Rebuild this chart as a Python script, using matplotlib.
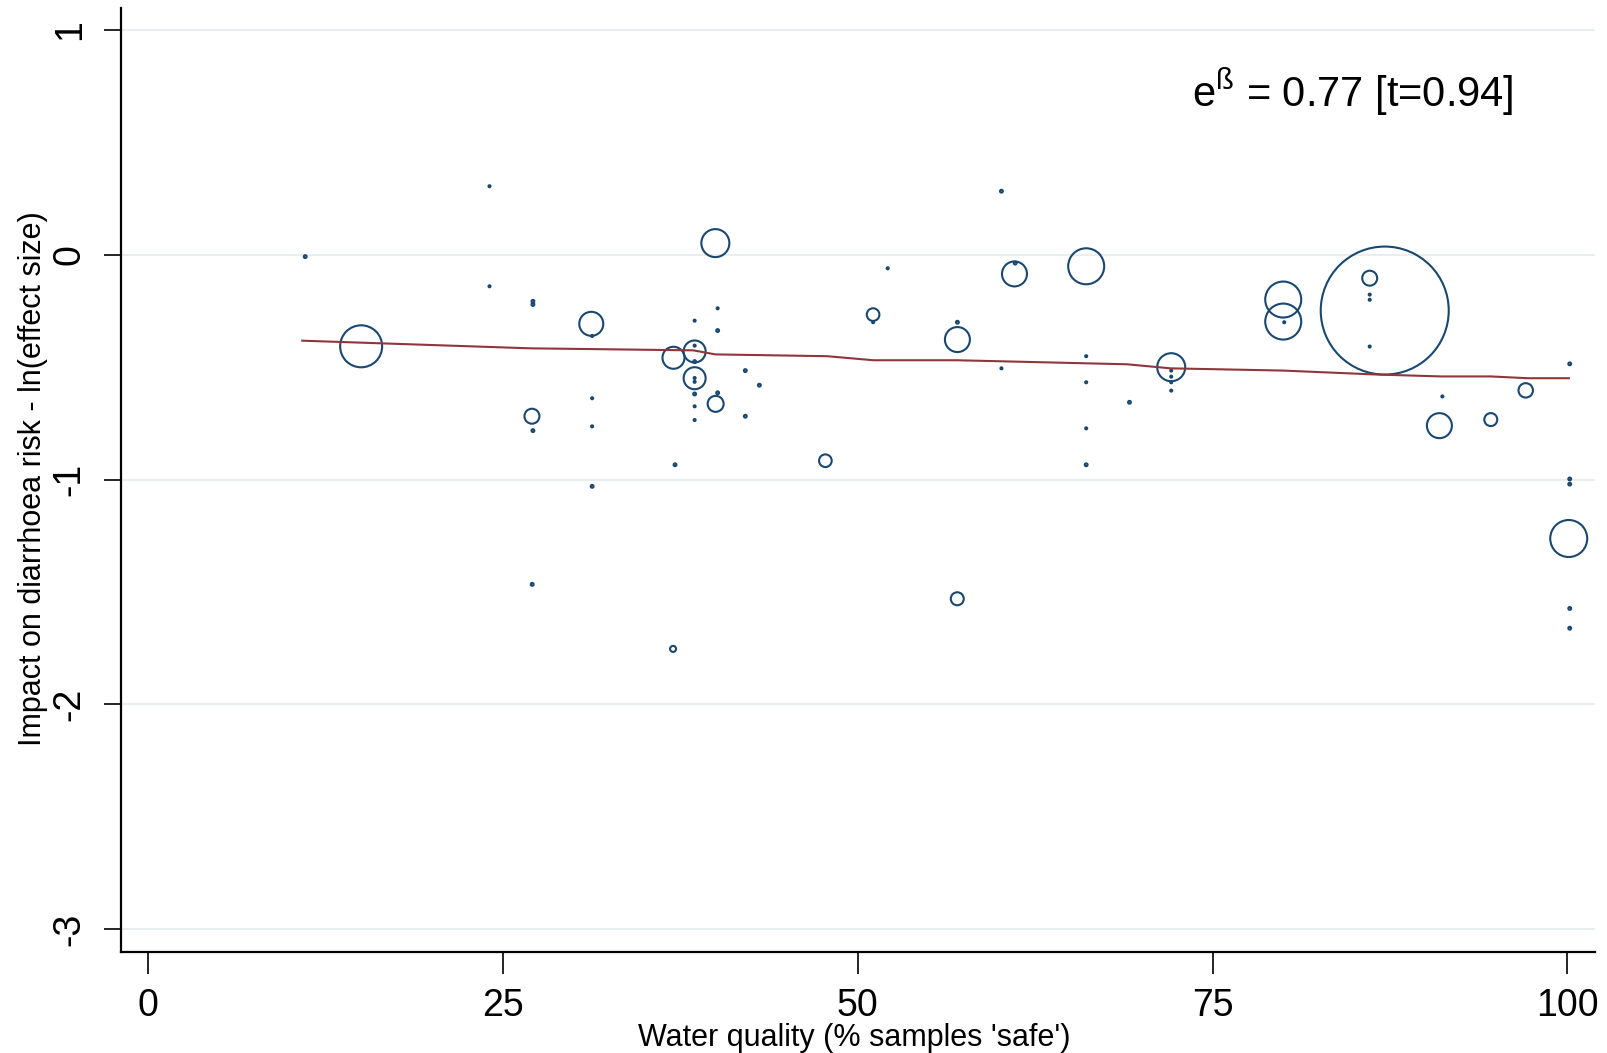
import matplotlib
matplotlib.use('agg')
import matplotlib.pyplot as plt
import numpy as np

plt.rcParams['font.family'] = ['Liberation Sans', 'DejaVu Sans']
plt.rcParams['mathtext.fontset'] = 'custom'
plt.rcParams['mathtext.rm'] = 'Liberation Sans'

NAVY = '#1a476f'
MAROON = '#90353b'
GRID = '#e8eff0'

# study estimates: water quality, ln(effect size), study weight
water_quality = [11.09, 15.03, 24.07, 24.07, 27.13, 27.13, 27.06, 27.13, 27.08,
                 31.24, 31.30, 31.30, 31.30, 31.30, 37.03, 37.14, 37.00,
                 38.52, 38.52, 38.52, 38.52, 38.52, 38.52, 38.52, 38.52, 38.52, 38.52,
                 39.98, 40.14, 40.00, 40.14, 40.14, 42.09, 43.08, 42.09,
                 47.73, 51.09, 51.09, 52.12, 57.03, 57.03, 57.02,
                 60.13, 60.13, 61.05, 61.10, 66.10, 66.10, 66.10, 66.10, 66.10,
                 69.15, 72.09, 72.09, 72.09, 72.09, 72.09,
                 79.98, 79.98, 80.05, 87.13, 86.07, 86.07, 86.07, 86.07,
                 91.19, 90.98, 94.60, 97.06,
                 100.16, 100.16, 100.16, 100.09, 100.16, 100.16]
log_effect = [-0.008, -0.407, 0.305, -0.140, -0.207, -0.221, -0.718, -0.782, -1.466,
              -0.307, -0.361, -0.638, -0.763, -1.030, -0.458, -0.934, -1.753,
              -0.430, -0.549, -0.293, -0.404, -0.475, -0.548, -0.565, -0.619, -0.674, -0.735,
              0.052, -0.238, -0.663, -0.337, -0.614, -0.515, -0.580, -0.718,
              -0.916, -0.266, -0.300, -0.060, -0.377, -0.300, -1.530,
              0.283, -0.505, -0.085, -0.037, -0.051, -0.451, -0.567, -0.772, -0.934,
              -0.656, -0.500, -0.515, -0.542, -0.567, -0.604,
              -0.199, -0.297, -0.300, -0.248, -0.104, -0.177, -0.200, -0.408,
              -0.630, -0.760, -0.733, -0.603,
              -0.485, -0.997, -1.020, -1.262, -1.573, -1.661]
weight = [0.02, 4.41, 0.01, 0.01, 0.02, 0.02, 0.56, 0.02, 0.02,
          1.44, 0.01, 0.01, 0.01, 0.02, 1.21, 0.02, 0.09,
          1.21, 1.21, 0.01, 0.01, 0.02, 0.01, 0.01, 0.02, 0.01, 0.01,
          1.96, 0.01, 0.64, 0.02, 0.02, 0.02, 0.02, 0.02,
          0.40, 0.40, 0.01, 0.01, 1.56, 0.02, 0.42,
          0.02, 0.01, 1.56, 0.02, 3.24, 0.01, 0.01, 0.01, 0.02,
          0.02, 1.96, 0.01, 0.01, 0.01, 0.01,
          3.24, 3.24, 0.01, 40.96, 0.56, 0.01, 0.01, 0.01,
          0.01, 1.56, 0.42, 0.52,
          0.02, 0.02, 0.02, 3.42, 0.02, 0.02]

# fitted values from the meta-regression
fit_x = [10.88, 26.94, 38.43, 39.98, 47.85, 51.11, 57.0, 68.99, 72.04,
         80.0, 86.35, 91.07, 94.6, 97.2, 100.1]
fit_y = [-0.382, -0.416, -0.425, -0.443, -0.451, -0.469, -0.469, -0.487, -0.505,
         -0.515, -0.532, -0.541, -0.541, -0.549, -0.549]

DPI = 100
fig = plt.figure(figsize=(16.08, 10.53), dpi=DPI)
ax = fig.add_axes([0.0753, 0.0962, 0.9167, 0.8958])

# bubble area proportional to weight: radius (px) = 10*sqrt(w)
w = np.array(weight)
diam_pt = 2 * 10 * np.sqrt(w) * 72 / DPI
ax.scatter(water_quality, log_effect, s=diam_pt ** 2, facecolors='none',
           edgecolors=NAVY, linewidths=1.5, zorder=3)
ax.plot(fit_x, fit_y, color=MAROON, lw=1.5, zorder=4)

ax.set_xlim(-1.88, 101.95)
ax.set_ylim(-3.10, 1.096)
ax.set_xticks([0, 25, 50, 75, 100])
ax.set_yticks([1, 0, -1, -2, -3])
ax.set_yticklabels(['1', '0', '-1', '-2', '-3'], rotation=90, va='center')
ax.tick_params(axis='x', length=16, width=1.2, pad=10, labelsize=27)
ax.tick_params(axis='y', length=12, width=1.2, pad=12, labelsize=27)
ax.grid(axis='y', color=GRID, lw=1.5, zorder=0)
ax.set_axisbelow(True)

for s in ['top', 'right']:
    ax.spines[s].set_visible(False)
for s in ['left', 'bottom']:
    ax.spines[s].set_linewidth(1.6)

ax.text(73.56, 0.657, r'e$^{\mathrm{ß}}$ = 0.77 [t=0.94]', fontsize=30,
        ha='left', va='baseline')

fig.text(854 / 1608, 1 - 1038 / 1053, "Water quality (% samples 'safe')",
         ha='center', va='center', fontsize=22)
fig.text(33 / 1608, 1 - 479 / 1053, 'Impact on diarrhoea risk - ln(effect size)',
         ha='center', va='center', rotation=90, fontsize=22)

fig.savefig('out.png', dpi=DPI)
